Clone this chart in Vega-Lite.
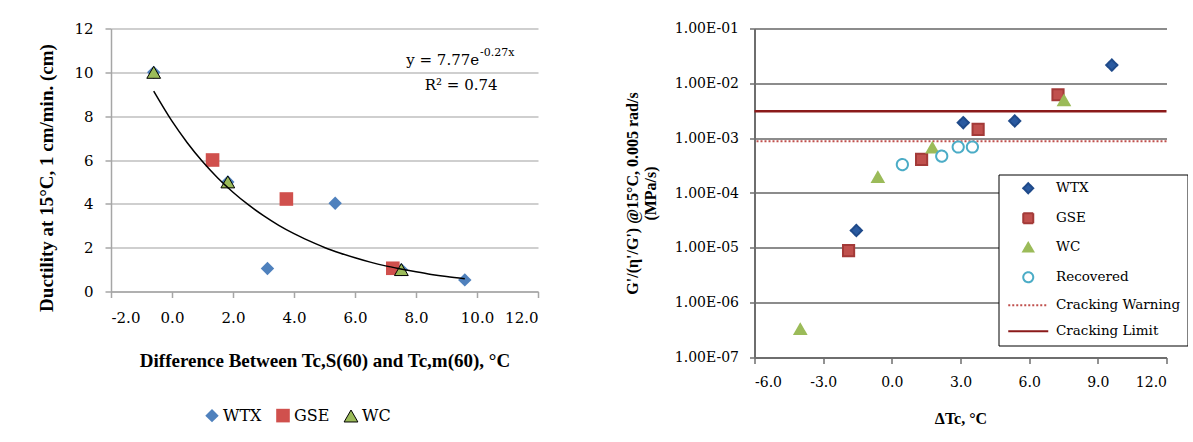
{
  "$schema": "https://vega.github.io/schema/vega-lite/v6.json",
  "background": "white",
  "padding": {"left": 37, "top": 21.5, "right": 0, "bottom": 0},
  "spacing": 85.5,
  "config": {
    "font": "DejaVu Serif",
    "view": {"stroke": null},
    "axis": {"labelColor": "black", "titleColor": "black", "labelFont": "DejaVu Serif", "titleFont": "Liberation Serif"},
    "legend": {"labelColor": "black", "labelFont": "DejaVu Serif"}
  },
  "datasets": {
    "left_points": [
      {"mix": "WTX", "dT": -0.6, "ductility": 10},
      {"mix": "WTX", "dT": 1.83, "ductility": 5},
      {"mix": "WTX", "dT": 3.13, "ductility": 1.05},
      {"mix": "WTX", "dT": 5.35, "ductility": 4.03},
      {"mix": "WTX", "dT": 7.52, "ductility": 1.0},
      {"mix": "WTX", "dT": 9.6, "ductility": 0.53},
      {"mix": "GSE", "dT": 1.33, "ductility": 6.0},
      {"mix": "GSE", "dT": 3.75, "ductility": 4.22},
      {"mix": "GSE", "dT": 7.24, "ductility": 1.06},
      {"mix": "WC", "dT": -0.6, "ductility": 10},
      {"mix": "WC", "dT": 1.83, "ductility": 5},
      {"mix": "WC", "dT": 7.52, "ductility": 1.0}
    ],
    "left_trend": [
      {"dT": -0.6, "ductility": 9.14},
      {"dT": 0.0, "ductility": 7.77},
      {"dT": 0.5, "ductility": 6.79},
      {"dT": 1.0, "ductility": 5.93},
      {"dT": 1.5, "ductility": 5.18},
      {"dT": 2.0, "ductility": 4.53},
      {"dT": 2.5, "ductility": 3.96},
      {"dT": 3.0, "ductility": 3.46},
      {"dT": 3.5, "ductility": 3.02},
      {"dT": 4.0, "ductility": 2.64},
      {"dT": 4.5, "ductility": 2.31},
      {"dT": 5.0, "ductility": 2.01},
      {"dT": 5.5, "ductility": 1.76},
      {"dT": 6.0, "ductility": 1.54},
      {"dT": 6.5, "ductility": 1.34},
      {"dT": 7.0, "ductility": 1.17},
      {"dT": 7.5, "ductility": 1.03},
      {"dT": 8.0, "ductility": 0.90},
      {"dT": 8.5, "ductility": 0.78},
      {"dT": 9.0, "ductility": 0.68},
      {"dT": 9.6, "ductility": 0.58}
    ],
    "right_points": [
      {"series": "WTX", "dTc": -1.55, "G": 2.07e-5},
      {"series": "WTX", "dTc": 3.12, "G": 1.92e-3},
      {"series": "WTX", "dTc": 5.37, "G": 2.06e-3},
      {"series": "WTX", "dTc": 9.61, "G": 2.15e-2},
      {"series": "GSE", "dTc": -1.89, "G": 8.9e-6},
      {"series": "GSE", "dTc": 1.30, "G": 4.1e-4},
      {"series": "GSE", "dTc": 3.77, "G": 1.45e-3},
      {"series": "GSE", "dTc": 7.26, "G": 6.2e-3},
      {"series": "WC", "dTc": -4.0, "G": 3.3e-7},
      {"series": "WC", "dTc": -0.61, "G": 1.95e-4},
      {"series": "WC", "dTc": 1.77, "G": 6.7e-4},
      {"series": "WC", "dTc": 7.52, "G": 4.9e-3},
      {"series": "Recovered", "dTc": 0.46, "G": 3.3e-4},
      {"series": "Recovered", "dTc": 2.18, "G": 4.7e-4},
      {"series": "Recovered", "dTc": 2.9, "G": 6.9e-4},
      {"series": "Recovered", "dTc": 3.52, "G": 6.9e-4}
    ],
    "right_lines": [
      {"series": "Cracking Warning", "G": 8.8e-4},
      {"series": "Cracking Limit", "G": 3.1e-3}
    ],
    "annotation": [
      {"note": "fit"}
    ]
  },
  "hconcat": [
    {
      "width": 427,
      "height": 263,
      "layer": [
        {
          "data": {"name": "left_points"},
          "mark": {"type": "point", "filled": true, "opacity": 1, "strokeWidth": 1},
          "encoding": {
            "x": {
              "field": "dT", "type": "quantitative",
              "scale": {"domain": [-2, 12], "nice": false, "zero": false},
              "axis": {
                "title": "Difference Between Tc,S(60) and Tc,m(60), °C",
                "values": [-2, 0, 2, 4, 6, 8, 10, 12],
                "labelExpr": "replace(format(datum.value, '.1f'), '−', '-')",
                "grid": false,
                "domainColor": "#A6A6A6", "domainWidth": 1.5,
                "tickColor": "#A6A6A6", "tickWidth": 1.5, "tickSize": 6,
                "labelFont": "DejaVu Serif", "labelFontSize": 15, "labelPadding": 13,
                "titleFontSize": 19, "titleFontWeight": "bold", "titlePadding": 26
              }
            },
            "y": {
              "field": "ductility", "type": "quantitative",
              "scale": {"domain": [0, 12], "nice": false},
              "axis": {
                "title": "Ductility at 15°C, 1 cm/min. (cm)",
                "values": [0, 2, 4, 6, 8, 10, 12],
                "grid": true, "gridColor": "#BFBFBF", "gridWidth": 1.5,
                "domainColor": "#A6A6A6", "domainWidth": 1.5,
                "tickColor": "#A6A6A6", "tickWidth": 1.5, "tickSize": 6,
                "labelFont": "DejaVu Serif", "labelFontSize": 15, "labelPadding": 12,
                "titleFontSize": 19, "titleFontWeight": "bold", "titlePadding": 17,
                "titleY": 149
              }
            },
            "color": {
              "field": "mix", "type": "nominal",
              "scale": {"domain": ["WTX", "GSE", "WC"], "range": ["#4F81BD", "#D0504D", "#9BBB59"]},
              "legend": {
                "title": null, "orient": "none", "direction": "horizontal",
                "legendX": 93, "legendY": 379,
                "labelFont": "DejaVu Serif", "labelFontSize": 16, "labelOffset": 3, "columnPadding": 12,
                "symbolStrokeWidth": 1
              }
            },
            "shape": {
              "field": "mix", "type": "nominal",
              "scale": {"domain": ["WTX", "GSE", "WC"], "range": ["diamond", "square", "triangle-up"]}
            },
            "stroke": {
              "field": "mix", "type": "nominal",
              "scale": {"domain": ["WTX", "GSE", "WC"], "range": ["transparent", "transparent", "black"]}
            },
            "size": {
              "field": "mix", "type": "nominal",
              "scale": {"domain": ["WTX", "GSE", "WC"], "range": [180, 190, 170]}
            }
          }
        },
        {
          "data": {"name": "left_trend"},
          "mark": {"type": "line", "color": "black", "strokeWidth": 1.5, "interpolate": "monotone"},
          "encoding": {
            "x": {"field": "dT", "type": "quantitative"},
            "y": {"field": "ductility", "type": "quantitative"}
          }
        },
        {
          "data": {"name": "annotation"},
          "mark": {"type": "text", "text": "y = 7.77e", "align": "right", "baseline": "middle", "fontSize": 15, "font": "DejaVu Serif", "color": "black"},
          "encoding": {"x": {"datum": 10.07}, "y": {"datum": 10.54}}
        },
        {
          "data": {"name": "annotation"},
          "mark": {"type": "text", "text": "-0.27x", "align": "left", "baseline": "middle", "fontSize": 11, "font": "DejaVu Serif", "color": "black"},
          "encoding": {"x": {"datum": 10.1}, "y": {"datum": 10.88}}
        },
        {
          "data": {"name": "annotation"},
          "mark": {"type": "text", "text": "R² = 0.74", "align": "center", "baseline": "middle", "fontSize": 15, "font": "DejaVu Serif", "color": "black"},
          "encoding": {"x": {"datum": 9.48}, "y": {"datum": 9.4}}
        }
      ]
    },
    {
      "width": 412,
      "height": 329,
      "layer": [
        {
          "data": {"name": "right_lines"},
          "transform": [{"filter": "datum.series == 'Cracking Warning'"}],
          "mark": {"type": "rule", "color": "#C0504D", "strokeWidth": 2, "strokeDash": [2, 2]},
          "encoding": {"y": {"field": "G", "type": "quantitative"}}
        },
        {
          "data": {"name": "right_lines"},
          "transform": [{"filter": "datum.series == 'Cracking Limit'"}],
          "mark": {"type": "rule", "color": "#8B1A1A", "strokeWidth": 2.5},
          "encoding": {"y": {"field": "G", "type": "quantitative"}}
        },
        {
          "data": {"name": "right_points"},
          "mark": {"type": "point", "filled": false, "opacity": 1, "strokeWidth": 2, "size": 125},
          "encoding": {
            "x": {
              "field": "dTc", "type": "quantitative",
              "scale": {"domain": [-6, 12], "nice": false, "zero": false},
              "axis": {
                "title": "ΔTc, °C",
                "values": [-6, -3, 0, 3, 6, 9, 12],
                "labelExpr": "replace(format(datum.value, '.1f'), '−', '-')",
                "grid": false,
                "domainColor": "#6E6E6E", "domainWidth": 2,
                "tickColor": "#6E6E6E", "tickWidth": 1.5, "tickSize": 6,
                "labelFont": "DejaVu Serif", "labelFontSize": 14, "labelPadding": 12,
                "titleFontSize": 16, "titleFontWeight": "bold", "titlePadding": 21
              }
            },
            "y": {
              "field": "G", "type": "quantitative",
              "scale": {"type": "log", "domain": [1e-7, 0.1], "nice": false},
              "axis": {
                "title": ["G'/(η'/G') @15°C, 0.005 rad/s", "(MPa/s)"],
                "values": [1e-7, 1e-6, 1e-5, 1e-4, 1e-3, 1e-2, 1e-1],
                "labelExpr": "'1.00E-0' + round(-log(datum.value) / LN10)",
                "grid": true, "gridColor": "#8C8C8C", "gridWidth": 2,
                "domainColor": "#6E6E6E", "domainWidth": 2,
                "tickColor": "#6E6E6E", "tickWidth": 1.5, "tickSize": 5,
                "labelFont": "DejaVu Serif", "labelFontSize": 14, "labelPadding": 11,
                "titleFontSize": 16, "titleFontWeight": "bold", "titlePadding": 16, "titleLineHeight": 17.5
              }
            },
            "color": {
              "field": "series", "type": "nominal",
              "scale": {
                "domain": ["WTX", "GSE", "WC", "Recovered", "Cracking Warning", "Cracking Limit"],
                "range": ["#1F4A8A", "#A33A38", "#9BBB59", "#4BACC6", "#C0504D", "#8B1A1A"]
              },
              "legend": {
                "title": null, "orient": "none",
                "legendX": 244, "legendY": 146,
                "labelFont": "DejaVu Serif", "labelFontSize": 13.5, "labelOffset": 21, "symbolOffset": 16,
                "rowPadding": 11,
                "padding": 7,
                "strokeColor": "black", "fillColor": "white",
                "symbolStrokeWidth": 2
              }
            },
            "fill": {
              "field": "series", "type": "nominal",
              "scale": {
                "domain": ["WTX", "GSE", "WC", "Recovered", "Cracking Warning", "Cracking Limit"],
                "range": ["#2A5AA0", "#C0504D", "#9BBB59", "white", "transparent", "transparent"]
              }
            },
            "shape": {
              "field": "series", "type": "nominal",
              "scale": {
                "domain": ["WTX", "GSE", "WC", "Recovered", "Cracking Warning", "Cracking Limit"],
                "range": ["diamond", "square", "triangle-up", "circle", "M-4,0H4", "M-4,0H4"]
              }
            },
            "strokeDash": {
              "field": "series", "type": "nominal",
              "scale": {
                "domain": ["WTX", "GSE", "WC", "Recovered", "Cracking Warning", "Cracking Limit"],
                "range": [[1, 0], [1, 0], [1, 0], [1, 0], [2, 2], [1, 0]]
              }
            }
          }
        }
      ]
    }
  ],
  "resolve": {
    "scale": {"x": "independent", "y": "independent", "color": "independent", "shape": "independent", "size": "independent", "stroke": "independent", "fill": "independent", "strokeDash": "independent"},
    "legend": {"color": "independent", "shape": "independent", "size": "independent", "stroke": "independent", "fill": "independent", "strokeDash": "independent"}
  }
}
